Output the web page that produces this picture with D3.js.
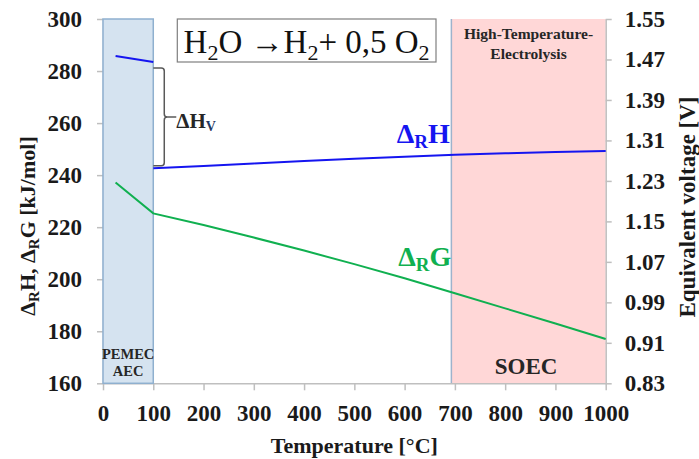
<!DOCTYPE html>
<html>
<head>
<meta charset="utf-8">
<script src="https://d3js.org/d3.v7.min.js"></script>
<style>
  body { margin: 0; background: #fff; }
  svg text { font-family: "Liberation Serif", "Times New Roman", serif; }
  .axis text { font-size: 23px; font-weight: bold; fill: #1a1a1a; }
  .axis path, .axis line { stroke: #bfbfbf; stroke-width: 1.5; }
  .zone { font-weight: bold; fill: #262626; }
</style>
</head>
<body>
<div id="chart"></div>
<script>
// data
const xTicks = [0, 100, 200, 300, 400, 500, 600, 700, 800, 900, 1000];
const leftTicks = [160, 180, 200, 220, 240, 260, 280, 300];
const rightTicks = [0.83, 0.91, 0.99, 1.07, 1.15, 1.23, 1.31, 1.39, 1.47, 1.55];

// liquid water (below 100 °C)
const tempLiquid = [25, 100];
const dHLiquid = [285.8, 283.5];

// vapour
const tempVapour = [100, 200, 300, 400, 500, 600, 700, 800, 900, 1000];
const dHVapour = [242.6, 243.5, 244.5, 245.4, 246.3, 247.1, 247.8, 248.4, 248.9, 249.3];

const tempG = [25, 100, 200, 300, 400, 500, 600, 700, 800, 900, 1000];
const dG = [237.2, 225.3, 220.8, 216.0, 211.0, 205.8, 200.4, 194.6, 188.8, 183.0, 177.0];

// operating zones
const lowTempZone = [0, 100];
const highTempZone = [693, 1000];

const W = 699, H = 459;
const m = { top: 19, right: 93.3, bottom: 75.7, left: 103 };

const svg = d3.select('#chart').append('svg')
  .attr('width', W).attr('height', H);

const x = d3.scaleLinear().domain([0, 1000]).range([m.left, W - m.right]);
const y = d3.scaleLinear().domain([160, 300]).range([H - m.bottom, m.top]);
const yR = d3.scaleLinear().domain([0.83, 1.55]).range([H - m.bottom, m.top]);

// zones
svg.append('rect')
  .attr('x', x(highTempZone[0])).attr('y', m.top)
  .attr('width', x(highTempZone[1]) - x(highTempZone[0]))
  .attr('height', y(160) - m.top)
  .attr('fill', '#ffd7d7');
svg.append('line')
  .attr('x1', x(highTempZone[0])).attr('x2', x(highTempZone[0]))
  .attr('y1', m.top).attr('y2', y(160))
  .attr('stroke', '#9db3cc').attr('stroke-width', 1.5);

// axes
svg.append('g').attr('class', 'axis')
  .attr('transform', `translate(0,${y(160)})`)
  .call(d3.axisBottom(x).tickValues(xTicks).tickFormat(d3.format('d'))
    .tickSize(7).tickPadding(14).tickSizeOuter(0));

svg.append('g').attr('class', 'axis')
  .attr('transform', `translate(${m.left},0)`)
  .call(d3.axisLeft(y).tickValues(leftTicks).tickSize(6).tickPadding(15).tickSizeOuter(0));

svg.append('g').attr('class', 'axis')
  .attr('transform', `translate(${W - m.right},0)`)
  .call(d3.axisRight(yR).tickValues(rightTicks).tickFormat(d3.format('.2f'))
    .tickSize(6).tickPadding(13).tickSizeOuter(0));

svg.append('rect')
  .attr('x', x(lowTempZone[0])).attr('y', m.top)
  .attr('width', x(lowTempZone[1]) - x(lowTempZone[0]))
  .attr('height', y(160) - m.top)
  .attr('fill', '#d5e3f0')
  .attr('stroke', '#8fb0cf').attr('stroke-width', 1.5);

// curves
const line = d3.line().x(d => x(d[0])).y(d => y(d[1]));

svg.append('path')
  .datum(tempLiquid.map((t, i) => [t, dHLiquid[i]]))
  .attr('d', line).attr('fill', 'none')
  .attr('stroke', '#1515f0').attr('stroke-width', 2);

svg.append('path')
  .datum(tempVapour.map((t, i) => [t, dHVapour[i]]))
  .attr('d', line).attr('fill', 'none')
  .attr('stroke', '#1515f0').attr('stroke-width', 2);

svg.append('path')
  .datum(tempG.map((t, i) => [t, dG[i]]))
  .attr('d', line).attr('fill', 'none')
  .attr('stroke', '#10b050').attr('stroke-width', 2);

// ΔHv bracket
const bx = x(100), bTop = y(dHLiquid[1]) + 6, bBot = y(dHVapour[0]) - 2.5, bMid = (bTop + bBot) / 2;
const bv = bx + 11;
svg.append('path')
  .attr('d', `M${bx},${bTop} L${bv - 3},${bTop} Q${bv},${bTop} ${bv},${bTop + 3}
    L${bv},${bMid - 3} Q${bv},${bMid} ${bv + 3},${bMid} L${bv + 12},${bMid}
    M${bv + 3},${bMid} Q${bv},${bMid} ${bv},${bMid + 3}
    L${bv},${bBot - 3} Q${bv},${bBot} ${bv - 3},${bBot} L${bx},${bBot}`)
  .attr('fill', 'none').attr('stroke', '#595959').attr('stroke-width', 1.5);

const hv = svg.append('text')
  .attr('x', bv + 12).attr('y', bMid + 11)
  .attr('font-size', 21).attr('font-weight', 'bold').attr('fill', '#262626');
hv.append('tspan').text('ΔH');
hv.append('tspan').attr('font-size', 14).attr('dy', 3).attr('fill', '#1f3864').text('V');

// series labels
function subLabel(px, py, main, sub, last, color) {
  const t = svg.append('text').attr('x', px).attr('y', py)
    .attr('font-size', 28).attr('font-weight', 'bold').attr('fill', color);
  t.append('tspan').text(main);
  t.append('tspan').attr('font-size', 19).attr('dy', 5).text(sub);
  t.append('tspan').attr('dy', -5).text(last);
}
subLabel(396.7, 142.7, 'Δ', 'R', 'H', '#1515f0');
subLabel(398.3, 266, 'Δ', 'R', 'G', '#10b050');

// reaction box
svg.append('rect')
  .attr('x', 177.3).attr('y', 19).attr('width', 258.7).attr('height', 43)
  .attr('fill', '#fff').attr('stroke', '#7f7f7f').attr('stroke-width', 1.2);
const eq = svg.append('text')
  .attr('x', 306.6).attr('y', 52.7).attr('text-anchor', 'middle')
  .attr('font-size', 33).attr('fill', '#111');
eq.append('tspan').text('H');
eq.append('tspan').attr('font-size', 22).attr('dy', 7).text('2');
eq.append('tspan').attr('dy', -7).text('O →H');
eq.append('tspan').attr('font-size', 22).attr('dy', 7).text('2');
eq.append('tspan').attr('dy', -7).text('+ 0,5 O');
eq.append('tspan').attr('font-size', 22).attr('dy', 7).text('2');

// zone labels
const cLow = (x(lowTempZone[0]) + x(lowTempZone[1])) / 2;
const cHigh = (x(highTempZone[0]) + x(highTempZone[1])) / 2;
svg.append('text').attr('class', 'zone').attr('x', cLow).attr('y', 358.5)
  .attr('text-anchor', 'middle').attr('font-size', 14.5).text('PEMEC');
svg.append('text').attr('class', 'zone').attr('x', cLow).attr('y', 376)
  .attr('text-anchor', 'middle').attr('font-size', 14.5).text('AEC');
svg.append('text').attr('class', 'zone').attr('x', cHigh).attr('y', 39.3)
  .attr('text-anchor', 'middle').attr('font-size', 15.5).text('High-Temperature-');
svg.append('text').attr('class', 'zone').attr('x', cHigh).attr('y', 59)
  .attr('text-anchor', 'middle').attr('font-size', 15.5).text('Electrolysis');
svg.append('text').attr('class', 'zone').attr('x', cHigh - 2.5).attr('y', 374)
  .attr('text-anchor', 'middle').attr('font-size', 23).text('SOEC');

// axis titles
svg.append('text')
  .attr('x', (x(0) + x(1000)) / 2).attr('y', 453)
  .attr('text-anchor', 'middle').attr('font-size', 22).attr('font-weight', 'bold')
  .attr('fill', '#1a1a1a').text('Temperature [°C]');

const yt = svg.append('text')
  .attr('transform', 'translate(35,226) rotate(-90)')
  .attr('text-anchor', 'middle').attr('font-size', 22).attr('font-weight', 'bold')
  .attr('fill', '#1a1a1a');
yt.append('tspan').text('Δ');
yt.append('tspan').attr('font-size', 15).attr('dy', 4).text('R');
yt.append('tspan').attr('dy', -4).text('H, Δ');
yt.append('tspan').attr('font-size', 15).attr('dy', 4).text('R');
yt.append('tspan').attr('dy', -4).text('G [kJ/mol]');

svg.append('text')
  .attr('transform', 'translate(695,207) rotate(-90)')
  .attr('text-anchor', 'middle').attr('font-size', 23).attr('font-weight', 'bold')
  .attr('fill', '#1a1a1a').text('Equivalent voltage [V]');
</script>
</body>
</html>
